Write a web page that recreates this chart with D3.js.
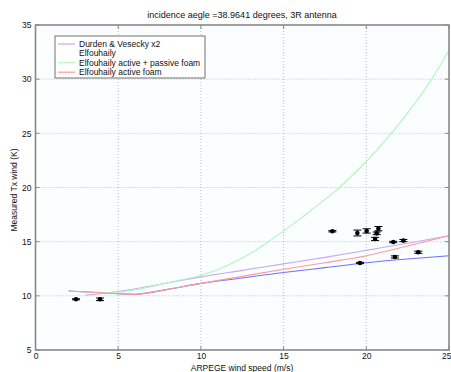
<!DOCTYPE html>
<html><head><meta charset="utf-8">
<script src="https://cdn.jsdelivr.net/npm/d3@7"></script>
<style>body{margin:0;background:#fff}svg{display:block}text{font-family:"Liberation Sans",Arial,sans-serif;fill:#111}</style>
</head><body><svg id="c" width="451" height="372"></svg>
<script>
const xTicks=[0,5,10,15,20,25];
const yTicks=[5,10,15,20,25,30,35];
const durdenX=[3,5,7.5,10,12.5,15,17.5,20,22.5,25];
const durdenY=[10.05,10.4,11.05,11.75,12.35,12.95,13.55,14.2,14.85,15.55];
const elfX=[2,4,6,8,10,12.5,15,17.5,20,22.5,25];
const elfY=[10.45,10.28,10.15,10.6,11.15,11.65,12.15,12.6,13.05,13.4,13.7];
const greenX=[2,4,5,6,8,10,11,12,13,14,15,16,17,18,19,20,21,22,23,24,25];
const greenY=[10.45,10.3,10.35,10.55,11.2,11.9,12.4,13.1,13.9,14.9,16.0,17.1,18.3,19.5,20.9,22.4,24.1,25.9,27.9,30.1,32.7];
const redX=[2,4,6,8,10,12.5,15,17.5,20,22.5,25];
const redY=[10.45,10.28,10.15,10.6,11.15,11.8,12.45,13.05,13.7,14.6,15.55];
const obsX=[2.45,3.9,17.95,19.46,20.02,20.73,20.63,20.53,19.62,21.63,22.24,21.73,23.14];
const obsY=[9.68,9.68,15.96,15.8,15.99,16.2,15.77,15.25,13.03,14.97,15.1,13.59,14.02];
const obsErr=[0.05,0.12,0.06,0.27,0.2,0.2,0.12,0.15,0.06,0.06,0.1,0.1,0.1];
const legendLabels=["Durden & Vesecky x2","Elfouhaily","Elfouhaily active + passive foam","Elfouhaily active foam"];
const legendColors=["#c8a8f4",null,"#b4f4bc","#ff9a9a"];

const svg=d3.select("#c");
const L=35.5,R=449,T=25,B=350;
const x=d3.scaleLinear().domain([0,25]).range([L,R]);
const y=d3.scaleLinear().domain([5,35]).range([B,T]);

svg.append("rect").attr("x",L).attr("y",T).attr("width",R-L).attr("height",B-T).attr("fill","#fbfefe");
const g=svg.append("g");
g.selectAll(".gx").data(xTicks.slice(1,-1)).enter().append("line")
 .attr("x1",d=>x(d)).attr("x2",d=>x(d)).attr("y1",T).attr("y2",B)
 .attr("stroke","#bbb").attr("stroke-width",1).attr("stroke-dasharray","1,2");
g.selectAll(".gy").data(yTicks.slice(1,-1)).enter().append("line")
 .attr("y1",d=>y(d)).attr("y2",d=>y(d)).attr("x1",L).attr("x2",R)
 .attr("stroke","#bbb").attr("stroke-width",1).attr("stroke-dasharray","1,2");

const line=d3.line().x(d=>x(d[0])).y(d=>y(d[1])).curve(d3.curveMonotoneX);
function draw(xs,ys,c){svg.append("path").datum(xs.map((v,i)=>[v,ys[i]])).attr("d",line)
 .attr("fill","none").attr("stroke",c).attr("stroke-width",1.1);}
draw(durdenX,durdenY,"#c8a8f4");
draw(elfX,elfY,"#7070ff");
draw(greenX,greenY,"#b4f4bc");
draw(redX,redY,"#ff9a9a");

const og=svg.append("g");
obsX.forEach((vx,i)=>{
 const cx=x(vx),cy=y(obsY[i]),e=obsErr[i];
 og.append("line").attr("x1",cx).attr("x2",cx).attr("y1",y(obsY[i]-e)).attr("y2",y(obsY[i]+e)).attr("stroke","#000").attr("stroke-width",1);
 [obsY[i]-e,obsY[i]+e].forEach(v=>og.append("line").attr("x1",cx-4).attr("x2",cx+4).attr("y1",y(v)).attr("y2",y(v)).attr("stroke","#000").attr("stroke-width",1));
 og.append("circle").attr("cx",cx).attr("cy",cy).attr("r",2.3).attr("fill","#000");
});

svg.append("rect").attr("x",L).attr("y",T).attr("width",R-L).attr("height",B-T).attr("fill","none").attr("stroke","#888").attr("stroke-width",1.6);
const xa=svg.append("g").attr("transform",`translate(0,${B})`).call(d3.axisBottom(x).tickValues(xTicks).tickSize(0).tickPadding(3).tickFormat(d3.format("d")));
const ya=svg.append("g").attr("transform",`translate(${L},0)`).call(d3.axisLeft(y).tickValues(yTicks).tickSize(0).tickPadding(4).tickFormat(d3.format("d")));
[xa,ya].forEach(a=>{a.select(".domain").remove();a.selectAll("text").attr("font-size",8.5).attr("fill","#111").attr("font-family","Liberation Sans, Arial, sans-serif");});
xa.selectAll(".tick").filter(d=>d===25).select("text").attr("text-anchor","end").attr("dx",2);
svg.selectAll(".tkx").data(xTicks).enter().append("line").attr("x1",d=>x(d)).attr("x2",d=>x(d)).attr("y1",B).attr("y2",B-4).attr("stroke","#888");
svg.selectAll(".tkx2").data(xTicks).enter().append("line").attr("x1",d=>x(d)).attr("x2",d=>x(d)).attr("y1",T).attr("y2",T+4).attr("stroke","#888");
svg.selectAll(".tky").data(yTicks).enter().append("line").attr("y1",d=>y(d)).attr("y2",d=>y(d)).attr("x1",L).attr("x2",L+4).attr("stroke","#888");
svg.selectAll(".tky2").data(yTicks).enter().append("line").attr("y1",d=>y(d)).attr("y2",d=>y(d)).attr("x1",R).attr("x2",R-4).attr("stroke","#888");

svg.append("text").attr("x",242).attr("y",18).attr("text-anchor","middle").attr("font-size",9).text("incidence aegle =38.9641 degrees, 3R antenna");
svg.append("text").attr("x",242).attr("y",370.5).attr("text-anchor","middle").attr("font-size",8.5).text("ARPEGE wind speed (m/s)");
svg.append("text").attr("transform","translate(17,190) rotate(-90)").attr("text-anchor","middle").attr("font-size",8.5).text("Measured Tx wind (K)");

const lg=svg.append("g");
lg.append("rect").attr("x",55).attr("y",36).attr("width",150).attr("height",42).attr("fill","#fff").attr("stroke","#888").attr("stroke-width",1.2);
legendLabels.forEach((t,i)=>{
 const yy=44+i*9.4;
 if(legendColors[i]) lg.append("line").attr("x1",58).attr("x2",75).attr("y1",yy).attr("y2",yy).attr("stroke",legendColors[i]).attr("stroke-width",1.2);
 lg.append("text").attr("x",79).attr("y",yy+3).attr("font-size",8.5).text(t);
});
</script></body></html>
